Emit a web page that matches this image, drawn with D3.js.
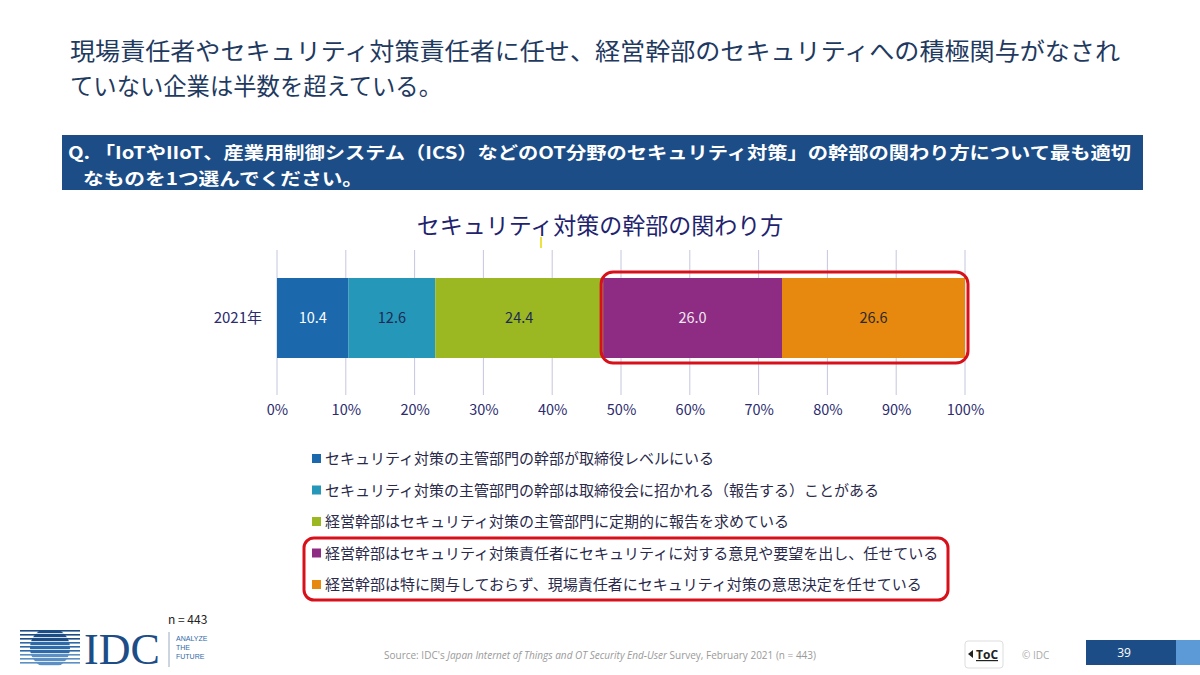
<!DOCTYPE html>
<html><head><meta charset="utf-8">
<script src="https://cdn.jsdelivr.net/npm/d3@7"></script>
<style>body{margin:0;background:#fff;}svg{display:block;}</style>
</head><body>
<script>
const categories = ["2021年"];
const seriesNames = [
  "セキュリティ対策の主管部門の幹部が取締役レベルにいる",
  "セキュリティ対策の主管部門の幹部は取締役会に招かれる（報告する）ことがある",
  "経営幹部はセキュリティ対策の主管部門に定期的に報告を求めている",
  "経営幹部はセキュリティ対策責任者にセキュリティに対する意見や要望を出し、任せている",
  "経営幹部は特に関与しておらず、現場責任者にセキュリティ対策の意思決定を任せている"
];
const values = [10.4, 12.6, 24.4, 26.0, 26.6];
const seriesColors = ["#1b68ad", "#2597b8", "#9bb823", "#8d2c82", "#e8890f"];
const labelColors = ["#ffffff", "#1e2a55", "#1e2a55", "#f2e8f2", "#2a2a2a"];
const tickValues = [0,10,20,30,40,50,60,70,80,90,100];

const W = 1200, H = 675;
const font = "'Noto Sans CJK JP','Noto Sans',sans-serif";
const svg = d3.select("body").append("svg").attr("width", W).attr("height", H)
  .style("font-family", font);

// Page title (one paragraph, two lines)
const titleLines = ["現場責任者やセキュリティ対策責任者に任せ、経営幹部のセキュリティへの積極関与がなされ",
                    "ていない企業は半数を超えている。"];
const titleLens = [1050, 372];
const pt = svg.append("text").attr("font-size", 24).attr("fill", "#1f3a5f");
titleLines.forEach((t, i) => pt.append("tspan").attr("x", 70).attr("y", 60 + i*35)
  .attr("textLength", titleLens[i]).attr("lengthAdjust", "spacingAndGlyphs").text(t));

// Question banner
svg.append("rect").attr("x", 62).attr("y", 135).attr("width", 1081).attr("height", 55).attr("fill", "#1c4d87");
const qLines = ["Q. 「IoTやIIoT、産業用制御システム（ICS）などのOT分野のセキュリティ対策」の幹部の関わり方について最も適切",
                "なものを1つ選んでください。"];
const qt = svg.append("text").attr("font-size", 17.5).attr("font-weight", "bold").attr("fill", "#ffffff");
qt.append("tspan").attr("x", 68).attr("y", 159).attr("textLength", 1063)
  .attr("lengthAdjust", "spacingAndGlyphs").text(qLines[0]);
qt.append("tspan").attr("x", 83).attr("y", 184.5).attr("textLength", 280)
  .attr("lengthAdjust", "spacingAndGlyphs").text(qLines[1]);

// Chart title
svg.append("text").attr("x", 600).attr("y", 234).attr("text-anchor", "middle")
  .attr("font-size", 23).attr("fill", "#22236e").text("セキュリティ対策の幹部の関わり方");
svg.append("line").attr("x1", 541).attr("x2", 541).attr("y1", 237).attr("y2", 248)
  .attr("stroke", "#e6d800").attr("stroke-width", 1.5);

// Scales
const x = d3.scaleLinear().domain([0, 100]).range([277, 965]);

// gridlines
svg.selectAll("line.grid").data(tickValues).join("line")
  .attr("x1", d => x(d)).attr("x2", d => x(d)).attr("y1", 250).attr("y2", 395)
  .attr("stroke", "#c5c6e0").attr("stroke-width", 1);

// axis tick labels via d3 axis
const ax = svg.append("g").attr("transform", "translate(0,401)")
  .call(d3.axisBottom(x).tickValues(tickValues).tickFormat(d => d + "%").tickSize(0).tickPadding(4));
ax.select(".domain").remove();
ax.selectAll("text").attr("font-size", 14.5).attr("fill", "#2b2b6e").style("font-family", font);

// stacked bar
const stack = [];
let cum = 0;
values.forEach((v, i) => { stack.push({i, x0: cum, x1: cum + v, v}); cum += v; });
const barY = 278, barH = 80;
const g = svg.append("g");
g.selectAll("rect").data(stack).join("rect")
  .attr("x", d => x(d.x0)).attr("y", barY)
  .attr("width", d => x(d.x1) - x(d.x0)).attr("height", barH)
  .attr("fill", d => seriesColors[d.i]);
g.selectAll("text").data(stack).join("text")
  .attr("x", d => (x(d.x0) + x(d.x1)) / 2).attr("y", barY + barH/2 + 5)
  .attr("text-anchor", "middle").attr("font-size", 14.5)
  .attr("fill", d => labelColors[d.i]).text(d => d.v.toFixed(1));

// category label
svg.append("text").attr("x", 262).attr("y", barY + barH/2 + 5).attr("text-anchor", "end")
  .attr("font-size", 15).attr("fill", "#2b2b6e").text(categories[0]);

// red highlight on bar
svg.append("rect").attr("x", x(stack[3].x0) - 2).attr("y", 272)
  .attr("width", x(100) - x(stack[3].x0) + 5).attr("height", 91)
  .attr("rx", 12).attr("fill", "none").attr("stroke", "#d8101a").attr("stroke-width", 3);

// legend
const lg = svg.append("g");
seriesNames.forEach((n, i) => {
  const yy = 459 + i * 31.5;
  lg.append("rect").attr("x", 312).attr("y", yy - 5).attr("width", 9).attr("height", 9).attr("fill", seriesColors[i]);
  lg.append("text").attr("x", 325).attr("y", yy + 5).attr("font-size", 15).attr("fill", "#2a2a4a").text(n);
});
svg.append("rect").attr("x", 304).attr("y", 538).attr("width", 644).attr("height", 62)
  .attr("rx", 10).attr("fill", "none").attr("stroke", "#d8101a").attr("stroke-width", 3);

// footer
svg.append("text").attr("x", 168).attr("y", 624).attr("font-size", 12).attr("fill", "#222").text("n = 443");

// IDC logo globe
const logo = svg.append("g");
logo.append("clipPath").attr("id", "globe").append("circle").attr("cx", 50).attr("cy", 648).attr("r", 20);
const stripes = d3.range(0, 9);
const stripeColor = d => d < 3 ? "#1c4d87" : (d < 6 ? "#2f6aa8" : "#5c8fc4");
logo.selectAll("rect.st").data(stripes).join("rect")
  .attr("x", 20).attr("width", 60).attr("y", d => 630 + d*4).attr("height", 1.6)
  .attr("fill", stripeColor);
logo.selectAll("rect.gl").data(stripes).join("rect")
  .attr("x", 27).attr("width", 46).attr("y", d => 630 + d*4).attr("height", 3.2)
  .attr("clip-path", "url(#globe)")
  .attr("fill", stripeColor);
logo.append("text").attr("x", 84).attr("y", 664).attr("font-family", "'Liberation Serif',serif")
  .attr("font-size", 44).attr("fill", "#1c4d87").text("IDC");
logo.append("line").attr("x1", 169).attr("x2", 169).attr("y1", 632).attr("y2", 667).attr("stroke", "#9aaac0");
const tag = logo.append("text").attr("font-size", 7).attr("fill", "#2f6aa8")
  .style("font-family", "'Liberation Sans',sans-serif");
["ANALYZE", "THE", "FUTURE"].forEach((t, i) => tag.append("tspan").attr("x", 176).attr("y", 641 + i*9).text(t));

// source
const src = svg.append("text").attr("x", 600).attr("y", 659).attr("text-anchor", "middle")
  .attr("font-size", 10).attr("fill", "#9a9a9a").style("font-family", "'Open Sans',sans-serif");
src.append("tspan").text("Source: IDC's ");
src.append("tspan").attr("font-style", "italic").text("Japan Internet of Things and OT Security End-User");
src.append("tspan").text(" Survey, February 2021 (n = 443)");

// ToC button
svg.append("rect").attr("x", 965).attr("y", 641).attr("width", 38).attr("height", 27).attr("rx", 3)
  .attr("fill", "#fff").attr("stroke", "#ddd");
svg.append("path").attr("d", "M968,654 L973,650 L973,658 Z").attr("fill", "#222");
svg.append("text").attr("x", 976).attr("y", 659).attr("font-size", 12).attr("font-weight", "bold")
  .attr("fill", "#222").attr("text-decoration", "underline").style("font-family", "'Open Sans',sans-serif").text("ToC");
svg.append("text").attr("x", 1022).attr("y", 659).attr("font-size", 10).attr("fill", "#aaa")
  .style("font-family", "'Open Sans',sans-serif").text("© IDC");

// page number
svg.append("rect").attr("x", 1086).attr("y", 640).attr("width", 90).attr("height", 25).attr("fill", "#1c4d87");
svg.append("rect").attr("x", 1176).attr("y", 640).attr("width", 24).attr("height", 25).attr("fill", "#5b9ad6");
svg.append("text").attr("x", 1124).attr("y", 657).attr("text-anchor", "middle").attr("font-size", 12)
  .attr("fill", "#fff").style("font-family", "'Open Sans',sans-serif").text("39");
</script>
</body></html>
